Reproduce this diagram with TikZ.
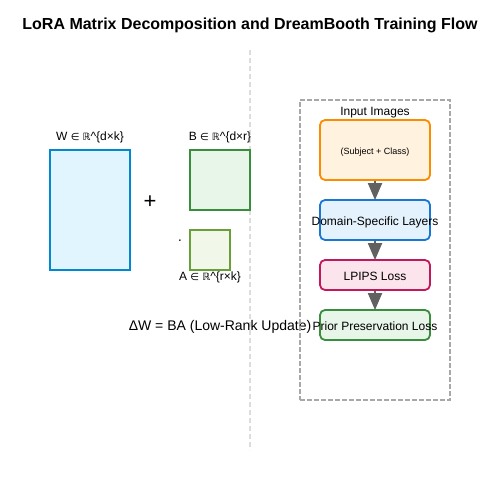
\documentclass[tikz,border=0pt]{standalone}
\usepackage{fontspec}
\setmainfont{Liberation Sans}
\newfontfamily\symfont{DejaVu Sans}
\usetikzlibrary{arrows.meta}
\definecolor{wfill}{HTML}{E1F5FE}\definecolor{wline}{HTML}{0288D1}
\definecolor{bfill}{HTML}{E8F5E9}\definecolor{bline}{HTML}{388E3C}
\definecolor{afill}{HTML}{F1F8E9}\definecolor{aline}{HTML}{689F38}
\definecolor{ofill}{HTML}{FFF3E0}\definecolor{oline}{HTML}{FB8C00}
\definecolor{dfill}{HTML}{E3F2FD}\definecolor{dline}{HTML}{1976D2}
\definecolor{pfill}{HTML}{FCE4EC}\definecolor{pline}{HTML}{C2185B}
\definecolor{arr}{HTML}{616161}
\definecolor{sep}{HTML}{DDDDDD}
\definecolor{frame}{HTML}{A8A8A8}
\newcommand{\inR}{{\symfont\fontsize{10}{12}\selectfont ∈ ℝ}}
\begin{document}
\begin{tikzpicture}[x=1pt,y=-1pt,
  mat/.style={draw, line width=2pt, inner sep=0pt},
  flow/.style={draw, line width=1.8pt, rounded corners=5pt, inner sep=0pt, minimum width=110pt},
  lbl/.style={font=\fontsize{12}{14}\selectfont, inner sep=0pt, anchor=base},
  flowarrow/.style={draw=arr, line width=2pt, -{Triangle[length=17pt,width=14pt]}, shorten >=-1pt}
]
\useasboundingbox (0,0) rectangle (500,500);
\fill[white] (0,0) rectangle (500,500);
\node[font=\bfseries\fontsize{16}{19}\selectfont, anchor=base] (title) at (250,30) {LoRA Matrix Decomposition and DreamBooth Training Flow};
\coordinate (septop) at (250,50);
\coordinate (sepbot) at (250,450);
\draw[sep, line width=1.5pt, dash pattern=on 5pt off 3pt] (septop) -- (sepbot);

% left side
\node[mat, draw=wline, fill=wfill, minimum width=80pt, minimum height=120pt] (W) at (90,210) {};
\node[lbl] (Wl) at (90,140) {W \inR\^{}\{d×k\}};
\node[font=\fontsize{22}{24}\selectfont, inner sep=0pt] (plus) at (150,202) {+};
\node[mat, draw=bline, fill=bfill, minimum width=60pt, minimum height=60pt] (B) at (220,180) {};
\node[lbl] (Bl) at (220,140) {B \inR\^{}\{d×r\}};
\node[font=\fontsize{14}{16}\selectfont, inner sep=0pt] (dot) at (180,242) {·};
\node[mat, draw=aline, fill=afill, minimum width=40pt, minimum height=40pt] (A) at (210,250) {};
\node[lbl] (Al) at (210,280) {A \inR\^{}\{r×k\}};
\node[font=\fontsize{14}{16}\selectfont, inner sep=0pt, anchor=base] (dw) at (220,330) {ΔW = BA (Low-Rank Update)};

% right side
\node[draw=frame, line width=1.5pt, dash pattern=on 5pt off 2pt, minimum width=150pt, minimum height=300pt, inner sep=0pt] (frame) at (375,250) {};
\node[lbl] (inp) at (375,115) {Input Images};
\node[flow, draw=oline, fill=ofill, minimum height=60pt] (b1) at (375,150) {};
\node[flow, draw=dline, fill=dfill, minimum height=40pt] (b2) at (375,220) {};
\node[flow, draw=pline, fill=pfill, minimum height=30pt] (b3) at (375,275) {};
\node[flow, draw=bline, fill=bfill, minimum height=30pt] (b4) at (375,325) {};
\node[font=\fontsize{9}{11}\selectfont, inner sep=0pt, anchor=base] (t1) at ([yshift=-4pt]b1.center) {(Subject + Class)};
\node[lbl] (t2) at ([yshift=-5pt]b2.center) {Domain-Specific Layers};
\node[lbl] (t3) at ([yshift=-5pt]b3.center) {LPIPS Loss};
\node[lbl] (t4) at ([yshift=-5pt]b4.center) {Prior Preservation Loss};
\draw[flowarrow] (b1.south) -- (b2.north);
\draw[flowarrow] (b2.south) -- (b3.north);
\draw[flowarrow] (b3.south) -- (b4.north);
\end{tikzpicture}
\end{document}
